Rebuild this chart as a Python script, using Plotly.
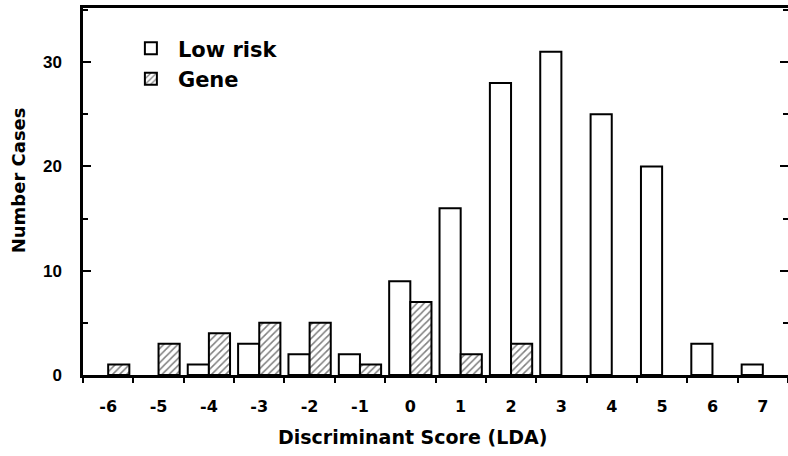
import plotly.graph_objects as go

categories = ["-6", "-5", "-4", "-3", "-2", "-1", "0", "1", "2", "3", "4", "5", "6", "7"]
low_risk = [0, 0, 1, 3, 2, 2, 9, 16, 28, 31, 25, 20, 3, 1]
gene = [1, 3, 4, 5, 5, 1, 7, 2, 3, 0, 0, 0, 0, 0]
y_ticks = [0, 10, 20, 30]

WIDE = "DejaVu Sans"
ARIAL = "Liberation Sans"
HATCH = dict(shape="/", fgcolor="black", bgcolor="white", size=5, solidity=0.3)

fig = go.Figure()
fig.add_trace(go.Bar(
    x=categories, y=low_risk, name="<b>Low risk</b>", showlegend=False,
    legendgroup="low", offsetgroup="low",
    marker=dict(color="white",
                line=dict(color="black", width=[2 if v > 0 else 0 for v in low_risk])),
))
fig.add_trace(go.Bar(
    x=categories, y=gene, name="<b>Gene</b>", showlegend=False,
    legendgroup="gene", offsetgroup="gene",
    marker=dict(color="white",
                line=dict(color="black", width=[2 if v > 0 else 0 for v in gene]),
                pattern=HATCH),
))
# legend entries
fig.add_trace(go.Bar(
    x=[None], y=[None], name="<b>Low risk</b>", legendgroup="low", offsetgroup="low",
    marker=dict(color="white", line=dict(color="black", width=2)),
))
fig.add_trace(go.Bar(
    x=[None], y=[None], name="<b>Gene</b>", legendgroup="gene", offsetgroup="gene",
    marker=dict(color="white", line=dict(color="black", width=2), pattern=HATCH),
))

fig.update_layout(
    width=788, height=456,
    margin=dict(l=83, r=0, t=8, b=81, autoexpand=False),
    paper_bgcolor="white", plot_bgcolor="white",
    barmode="group", bargap=0.16, bargroupgap=0,
    font=dict(family=WIDE, color="black", size=15),
    legend=dict(x=0.058, y=0.945, xanchor="left", yanchor="top",
                bgcolor="rgba(0,0,0,0)", font=dict(size=21, family=WIDE),
                tracegroupgap=0, itemwidth=44),
    xaxis=dict(
        type="category", automargin=False,
        showline=True, linecolor="black", linewidth=2.5, mirror=True,
        ticks="outside", tickson="boundaries", ticklen=5, tickwidth=2,
        tickcolor="black", ticklabelstandoff=15,
        tickfont=dict(size=16, family=WIDE, weight="bold"),
        showgrid=False, zeroline=False,
    ),
    yaxis=dict(
        range=[0, 35.2], automargin=False,
        tickvals=y_ticks,
        showline=True, linecolor="black", linewidth=2.5, mirror="ticks",
        ticks="inside", ticklen=8, tickwidth=2, tickcolor="black",
        minor=dict(ticks="inside", dtick=5, ticklen=5, tickwidth=1.5,
                   tickcolor="black"),
        ticklabelstandoff=15,
        tickfont=dict(size=17, family=ARIAL, weight="bold"),
        showgrid=False, zeroline=False,
    ),
    annotations=[
        dict(text="<b>Discriminant Score (LDA)</b>", xref="paper", yref="paper",
             x=0.468, y=-0.169, xanchor="center", yanchor="middle",
             showarrow=False, font=dict(size=19, family=WIDE)),
        dict(text="<b>Number Cases</b>", xref="paper", yref="paper",
             x=-0.091, y=0.53, xanchor="center", yanchor="middle",
             textangle=-90, showarrow=False, font=dict(size=18, family=WIDE)),
    ],
)

fig.write_html(
    "out.html",
    config={"displayModeBar": False},
    post_script="document.body.style.margin='0';document.body.style.overflow='hidden';",
)
